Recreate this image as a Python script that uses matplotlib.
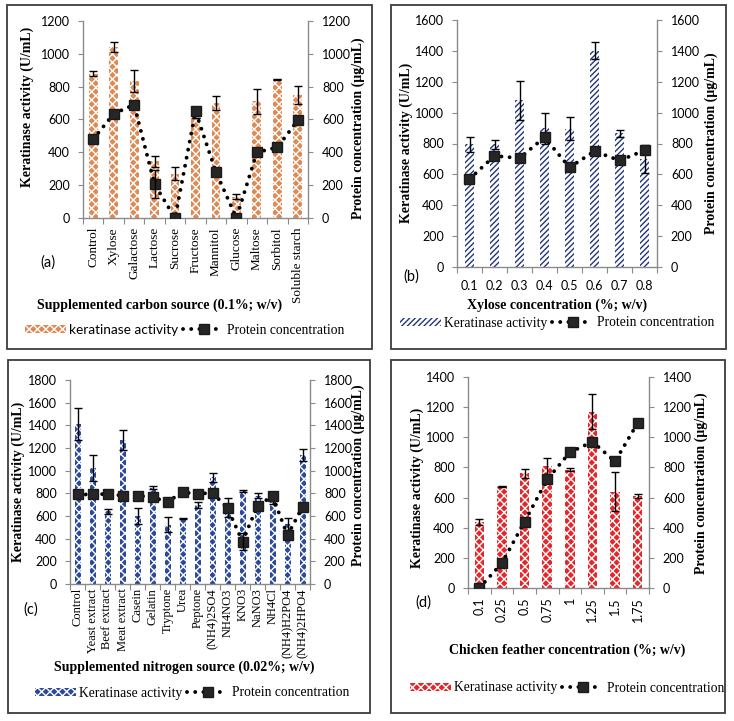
import numpy as np
import matplotlib
matplotlib.use("Agg")
import matplotlib.pyplot as plt
from matplotlib.patches import Rectangle

plt.rcParams['hatch.linewidth'] = 1.0

W, H = 734, 721

# ---------------- data ----------------
carbon_sources = ["Control", "Xylose", "Galactose", "Lactose", "Sucrose", "Fructose",
                  "Mannitol", "Glucose", "Maltose", "Sorbitol", "Soluble starch"]
carbon_keratinase = [880, 1040, 835, 345, 270, 610, 700, 130, 710, 845, 750]
carbon_keratinase_err = [18, 30, 65, 35, 40, 0, 45, 15, 75, 3, 55]
carbon_protein = [480, 635, 690, 205, 0, 650, 280, 0, 400, 430, 595]
carbon_protein_err = [0, 0, 0, 85, 0, 0, 0, 0, 0, 0, 0]

xylose_conc = ["0.1", "0.2", "0.3", "0.4", "0.5", "0.6", "0.7", "0.8"]
xylose_keratinase = [795, 795, 1080, 900, 895, 1400, 865, 700]
xylose_keratinase_err = [50, 30, 125, 100, 75, 55, 25, 90]
xylose_protein = [570, 720, 705, 840, 645, 750, 690, 755]
xylose_protein_err = [0, 0, 0, 0, 0, 0, 0, 0]

nitrogen_sources = ["Control", "Yeast extract", "Beef extract", "Meat extract", "Casein",
                    "Gelatin", "Tryptone", "Urea", "Peptone", "(NH4)2SO4", "NH4NO3",
                    "KNO3", "NaNO3", "NH4Cl", "(NH4)H2PO4", "(NH4)2HPO4"]
nitrogen_keratinase = [1410, 1020, 640, 1270, 600, 850, 525, 580, 700, 940, 675,
                       820, 780, 720, 530, 1140]
nitrogen_keratinase_err = [140, 115, 20, 85, 70, 15, 70, 5, 25, 40, 85,
                           10, 25, 15, 55, 55]
nitrogen_protein = [790, 790, 795, 780, 780, 765, 725, 810, 795, 805, 670,
                    375, 690, 775, 430, 680]
nitrogen_protein_err = [0, 0, 0, 0, 0, 0, 0, 0, 0, 0, 0, 75, 0, 0, 0, 0]

feather_conc = ["0.1", "0.25", "0.5", "0.75", "1", "1.25", "1.5", "1.75"]
feather_keratinase = [440, 675, 760, 810, 785, 1170, 640, 610]
feather_keratinase_err = [20, 5, 30, 55, 10, 115, 130, 15]
feather_protein = [0, 165, 440, 720, 900, 970, 840, 1095]
feather_protein_err = [0, 0, 0, 0, 0, 0, 0, 0]

SERIF = ['Liberation Serif', 'DejaVu Serif']
SANS = ['Lato', 'DejaVu Sans']
GRAY = '#8a8a8a'

fig = plt.figure(figsize=(W / 100, H / 100), dpi=100)


def frac_rect(l, t, r, b):
    return [l / W, 1 - b / H, (r - l) / W, (b - t) / H]


def panel_box(l, t, r, b):
    fig.patches.append(Rectangle((l / W, 1 - b / H), (r - l) / W, (b - t) / H,
                                 transform=fig.transFigure, fill=False,
                                 ec='#3c3c3c', lw=1.3))


def draw_panel(rect, cats, kv, ke, pv, pe, ymax, step, bar_style, width,
               rot, cat_font, cat_size, cat_pad, ylab_pos, ylab2_pos,
               xlabel, xlab_pos, tag, tag_pos, leg_pos, leg_label1, leg1_font):
    ax = fig.add_axes(frac_rect(*rect))
    x = np.arange(len(cats))
    bars = ax.bar(x, kv, width=width, yerr=ke, capsize=3, linewidth=0,
                  error_kw=dict(elinewidth=1, ecolor='black', capthick=1),
                  **bar_style)
    ax.set_xlim(-0.5, len(cats) - 0.5)
    ax.set_ylim(0, ymax)
    ax.set_yticks(np.arange(0, ymax + 1, step))
    ax.set_xticks(np.arange(len(cats) + 1) - 0.5)
    ax.set_xticklabels([])
    ax.set_xticks(x, minor=True)
    ax.set_xticklabels(cats, minor=True, rotation=rot,
                       fontfamily=cat_font, fontsize=cat_size,
                       va='top', ha='center')
    ax.tick_params(axis='x', which='major', length=4, color=GRAY, direction='out')
    ax.tick_params(axis='x', which='minor', length=0, pad=cat_pad)
    ax.tick_params(axis='y', length=3.5, color=GRAY, pad=6, labelsize=9)
    for lab in ax.get_yticklabels():
        lab.set_fontfamily(SANS)

    ax2 = ax.twinx()
    line, = ax2.plot(x, pv, linestyle=(0, (0.01, 2.1)), lw=2.8, color='black',
                     dash_capstyle='round', marker='s', ms=7.3,
                     mfc='#262626', mec='#1a1a1a')
    idx = [i for i, e in enumerate(pe) if e > 0]
    if idx:
        ax2.errorbar([x[i] for i in idx], [pv[i] for i in idx],
                     yerr=[pe[i] for i in idx], fmt='none', ecolor='black',
                     elinewidth=1, capsize=3, capthick=1)
    ax2.set_ylim(0, ymax)
    ax2.set_yticks(np.arange(0, ymax + 1, step))
    ax2.tick_params(axis='y', length=3.5, color=GRAY, pad=6.5, labelsize=9)
    for lab in ax2.get_yticklabels():
        lab.set_fontfamily(SANS)

    for a in (ax, ax2):
        a.spines['top'].set_visible(False)
        for s in ('left', 'right', 'bottom'):
            a.spines[s].set_color(GRAY)
            a.spines[s].set_linewidth(1.0)
    ax.spines['right'].set_visible(False)
    ax2.spines['left'].set_visible(False)
    ax2.spines['bottom'].set_visible(False)

    fig.text(ylab_pos[0] / W, 1 - ylab_pos[1] / H, "Keratinase activity (U/mL)",
             rotation=90, ha='center', va='center', fontfamily=SERIF,
             fontweight='bold', fontsize=10)
    fig.text(ylab2_pos[0] / W, 1 - ylab2_pos[1] / H, "Protein concentration (µg/mL)",
             rotation=90, ha='center', va='center', fontfamily=SERIF,
             fontweight='bold', fontsize=10)
    fig.text(xlab_pos[0] / W, 1 - xlab_pos[1] / H, xlabel, ha='center',
             va='center', fontfamily=SERIF, fontweight='bold', fontsize=10)
    fig.text(tag_pos[0] / W, 1 - tag_pos[1] / H, tag, ha='left', va='center',
             fontfamily=SANS, fontsize=10.5)

    leg = fig.legend([bars, line], [leg_label1, "Protein concentration"],
                     loc='center left',
                     bbox_to_anchor=(leg_pos[0] / W, 1 - leg_pos[1] / H),
                     ncol=2, frameon=False, borderpad=0, borderaxespad=0,
                     handlelength=3.0, handleheight=0.5, handletextpad=0.25,
                     columnspacing=0.35, numpoints=1,
                     prop=dict(family=SERIF, size=9.8))
    leg.get_texts()[0].set_fontfamily(leg1_font)
    return ax, ax2


# panel boxes
panel_box(7, 5, 372, 349)
panel_box(391, 5, 726, 349)
panel_box(8, 360, 370, 713)
panel_box(391, 360, 725, 713)

# (a)
draw_panel((83, 21, 308, 218), carbon_sources, carbon_keratinase, carbon_keratinase_err,
           carbon_protein, carbon_protein_err, 1200, 200,
           dict(color='#DE8A55', edgecolor='white', hatch='xxxx'), 0.43,
           90, SERIF, 9.5, 6.5, (27, 107), (358, 128),
           "Supplemented carbon source (0.1%; w/v)", (160, 305),
           "(a)", (40, 263), (25, 330), "keratinase activity", SANS)

# (b)
draw_panel((457, 20, 657, 267), xylose_conc, xylose_keratinase, xylose_keratinase_err,
           xylose_protein, xylose_protein_err, 1600, 200,
           dict(color='white', edgecolor='#22367F', hatch='//////'), 0.36,
           0, SANS, 9, 9, (406, 143), (711, 143),
           "Xylose concentration (%; w/v)", (557, 305),
           "(b)", (403, 277), (400, 323), "Keratinase activity", SERIF)

# (c)
draw_panel((70, 380, 310, 584), nitrogen_sources, nitrogen_keratinase, nitrogen_keratinase_err,
           nitrogen_protein, nitrogen_protein_err, 1800, 200,
           dict(color='#2C4A9C', edgecolor='white', hatch='xxxx'), 0.4,
           90, SERIF, 9, 3, (18, 482), (358, 475),
           "Supplemented nitrogen source (0.02%; w/v)", (184, 667),
           "(c)", (23, 610), (35, 693), "Keratinase activity", SERIF)

# (d)
draw_panel((468, 377, 649, 588), feather_conc, feather_keratinase, feather_keratinase_err,
           feather_protein, feather_protein_err, 1400, 200,
           dict(color='#E5262B', edgecolor='white', hatch='xxxx'), 0.42,
           90, SANS, 9, 6.5, (417, 488), (701, 483),
           "Chicken feather concentration (%; w/v)", (567, 650),
           "(d)", (415, 603), (410, 688), "Keratinase activity", SERIF)

fig.savefig("out.png", dpi=100)
